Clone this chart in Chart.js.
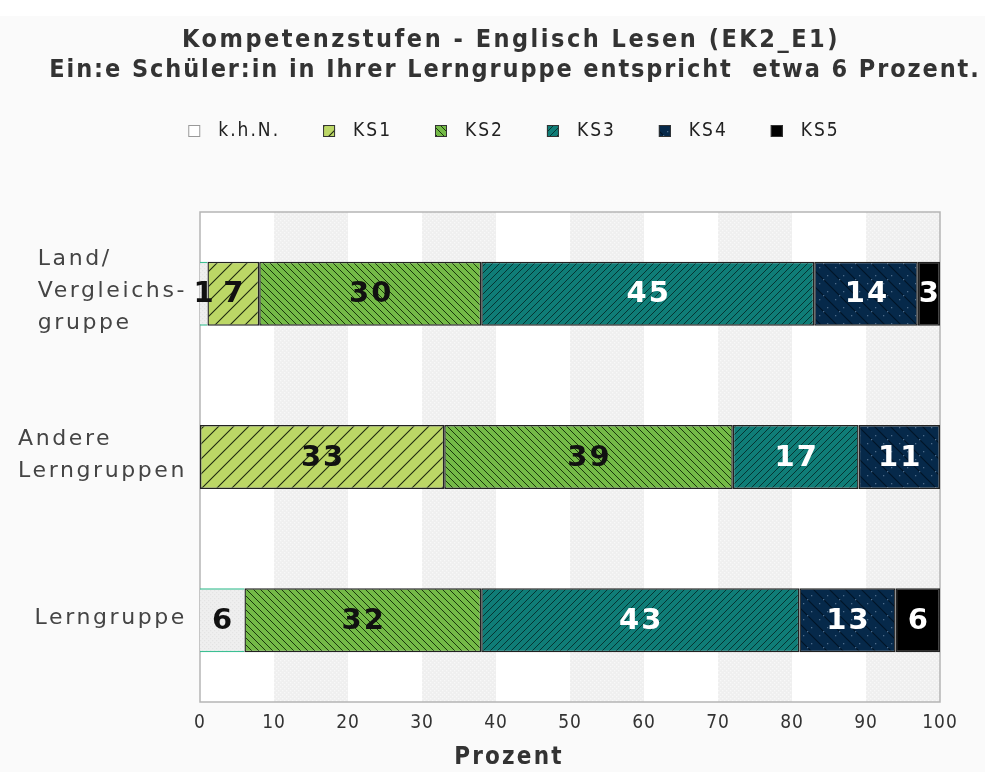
<!DOCTYPE html>
<html lang="de">
<head>
    <meta charset="UTF-8">
    <title>Kompetenzstufen - Englisch Lesen (EK2_E1)</title>
    <script src="https://cdn.jsdelivr.net/npm/chart.js"></script>
    <style>
        html, body { margin: 0; padding: 0; background: #ffffff; }
        #wrap { width: 985px; height: 772px; }
    </style>
</head>
<body>
<div id="wrap"><canvas id="ksChart"></canvas></div>
<script>
    // Daten
    const gruppen = [['Land/', 'Vergleichs-', 'gruppe'], ['Andere', 'Lerngruppen'], ['Lerngruppe']];
    const stufen = ['k.h.N.', 'KS1', 'KS2', 'KS3', 'KS4', 'KS5'];
    const khn = [1, 0, 6];
    const ks1 = [7, 33, 0];
    const ks2 = [30, 39, 32];
    const ks3 = [45, 17, 43];
    const ks4 = [14, 11, 13];
    const ks5 = [3, 0, 6];
    const titel = ['Kompetenzstufen - Englisch Lesen (EK2_E1)',
                   'Ein:e Schüler:in in Ihrer Lerngruppe entspricht  etwa 6 Prozent.'];
    const achsenTitel = 'Prozent';

    const canvas = document.getElementById('ksChart');
    const ctx = canvas.getContext('2d');

    // Schraffuren
    function muster(bg, fg, size, dir, lw, punkte) {
        const c = document.createElement('canvas');
        c.width = c.height = size;
        const g = c.getContext('2d');
        g.fillStyle = bg;
        g.fillRect(0, 0, size, size);
        if (dir) {
            g.strokeStyle = fg;
            g.lineWidth = lw;
            g.beginPath();
            if (dir === '/') {
                g.moveTo(-size / 2, size * 1.5); g.lineTo(size * 1.5, -size / 2);
                g.moveTo(-size / 2, size / 2); g.lineTo(size / 2, -size / 2);
                g.moveTo(size / 2, size * 1.5); g.lineTo(size * 1.5, size / 2);
            } else {
                g.moveTo(-size / 2, -size / 2); g.lineTo(size * 1.5, size * 1.5);
                g.moveTo(size / 2, -size / 2); g.lineTo(size * 1.5, size / 2);
                g.moveTo(-size / 2, size / 2); g.lineTo(size / 2, size * 1.5);
            }
            g.stroke();
        }
        if (punkte) {
            g.fillStyle = punkte.farbe;
            punkte.pos.forEach(p => g.fillRect(p[0], p[1], 1.3, 1.3));
        }
        return ctx.createPattern(c, 'repeat');
    }

    const fuellung = [
        muster('#efefef', null, 4, null, 0, { farbe: '#e4e4e4', pos: [[0, 0], [2, 2]] }),
        muster('#bcd766', '#1e2a10', 15, '/', 1.1),
        muster('#74ba47', '#1a380c', 7, '\\', 1.0),
        muster('#0f7d77', '#053532', 7, '/', 1.0),
        muster('#06294a', '#021426', 16, '\\', 1.1, { farbe: '#4d6c8a', pos: [[3, 11], [11, 3], [7, 7]] }),
        '#000000'
    ];
    const randFarbe = ['#3cbf93', '#222222', '#222222', '#222222', '#222222', '#222222'];
    const textFarbe = ['#111111', '#111111', '#111111', '#ffffff', '#ffffff', '#ffffff'];
    const reihen = [khn, ks1, ks2, ks3, ks4, ks5];

    const streifen = muster('#efefef', null, 4, null, 0, { farbe: '#f8f8f8', pos: [[0, 0], [2, 2]] });

    const hintergrund = {
        id: 'hintergrund',
        beforeDraw(chart) {
            const c = chart.ctx;
            c.save();
            c.fillStyle = '#ffffff';
            c.fillRect(0, 0, chart.width, chart.height);
            c.fillStyle = '#fafafa';
            c.fillRect(0, 16, chart.width, chart.height - 16);
            const a = chart.chartArea, x = chart.scales.x;
            c.fillStyle = '#ffffff';
            c.fillRect(a.left, a.top, a.width, a.height);
            c.fillStyle = streifen;
            for (let v = 10; v < 100; v += 20) {
                const x1 = x.getPixelForValue(v), x2 = x.getPixelForValue(v + 10);
                c.fillRect(x1, a.top, x2 - x1, a.height);
            }
            c.strokeStyle = '#b5b5b5';
            c.lineWidth = 1.5;
            c.strokeRect(a.left, a.top, a.width, a.height);
            c.restore();
            // Abstand fuer Achsenbeschriftung
            c.letterSpacing = '1px';
        },
        beforeDatasetsDraw(chart) {
            chart.ctx.letterSpacing = '0px';
        }
    };

    const beschriftung = {
        id: 'beschriftung',
        afterDraw(chart) {
            const c = chart.ctx;
            const a = chart.chartArea;
            const mitte = 512;
            c.save();
            c.textBaseline = 'middle';

            // Titel
            c.fillStyle = '#333333';
            c.font = 'bold 25px "DejaVu Sans Condensed"';
            c.textAlign = 'center';
            c.letterSpacing = '2.5px';
            c.fillText(titel[0], 511, 40);
            c.letterSpacing = '1.9px';
            c.fillText(titel[1], 515, 70);

            // Legende
            c.font = '19px "DejaVu Sans Condensed"';
            c.letterSpacing = '2px';
            c.textAlign = 'left';
            const breiten = stufen.map(s => c.measureText(s).width);
            const box = 12, luecke = 18, abstand = 43;
            let gesamt = breiten.reduce((s, w) => s + box + luecke + w, 0) + abstand * (stufen.length - 1);
            let lx = 514 - gesamt / 2;
            const ly = 131;
            chart.data.datasets.forEach((ds, i) => {
                c.fillStyle = i === 0 ? '#ffffff' : ds.backgroundColor;
                c.fillRect(lx, ly - box / 2, box, box);
                c.strokeStyle = i === 0 ? '#999999' : '#333333';
                c.lineWidth = 1;
                c.strokeRect(lx + 0.5, ly - box / 2 + 0.5, box - 1, box - 1);
                c.fillStyle = '#222222';
                c.fillText(ds.label, lx + box + luecke, ly);
                lx += box + luecke + breiten[i] + abstand;
            });

            // Gruppen (y-Achse)
            const y = chart.scales.y;
            c.font = '22px "DejaVu Sans"';
            c.letterSpacing = '2.6px';
            c.fillStyle = '#444444';
            gruppen.forEach((zeilen, i) => {
                const max = Math.max(...zeilen.map(z => c.measureText(z).width));
                const x0 = a.left - 13 - max;
                const cy = y.getPixelForValue(i) - 2;
                const lh = 32;
                zeilen.forEach((z, k) => {
                    c.fillText(z, x0, cy + (k - (zeilen.length - 1) / 2) * lh);
                });
            });

            // Werte in den Balken
            c.font = 'bold 29px "DejaVu Sans"';
            c.letterSpacing = '2px';
            c.textAlign = 'center';
            chart.data.datasets.forEach((ds, i) => {
                const meta = chart.getDatasetMeta(i);
                meta.data.forEach((bar, j) => {
                    const v = ds.data[j];
                    if (!v) return;
                    c.fillStyle = textFarbe[i];
                    c.fillText(String(v), (bar.base + bar.x) / 2 + 1, bar.y + 1);
                });
            });

            // Achsentitel
            c.font = 'bold 24px "DejaVu Sans Condensed"';
            c.letterSpacing = '2.2px';
            c.fillStyle = '#333333';
            c.fillText(achsenTitel, 509, 758);
            c.restore();
        }
    };

    new Chart(ctx, {
        type: 'bar',
        data: {
            labels: gruppen,
            datasets: stufen.map((s, i) => ({
                label: s,
                data: reihen[i],
                backgroundColor: fuellung[i],
                borderColor: randFarbe[i],
                borderWidth: i === 0 ? { top: 1.5, bottom: 1.5, left: 0, right: 0 } : 1.5,
                borderSkipped: false,
                categoryPercentage: 1,
                barPercentage: 0.392
            }))
        },
        options: {
            indexAxis: 'y',
            responsive: true,
            maintainAspectRatio: false,
            animation: false,
            layout: { padding: { top: 212, left: 200, right: 45, bottom: 0 } },
            plugins: {
                legend: { display: false },
                title: { display: false },
                tooltip: { enabled: false }
            },
            scales: {
                x: {
                    stacked: true,
                    min: 0,
                    max: 100,
                    ticks: {
                        stepSize: 10,
                        padding: 10,
                        color: '#333333',
                        font: { family: 'DejaVu Sans Condensed', size: 19 }
                    },
                    grid: { display: false, drawTicks: false },
                    border: { display: false },
                    afterFit(scale) { scale.height = 70; }
                },
                y: {
                    stacked: true,
                    display: false
                }
            }
        },
        plugins: [hintergrund, beschriftung]
    });
</script>
</body>
</html>
